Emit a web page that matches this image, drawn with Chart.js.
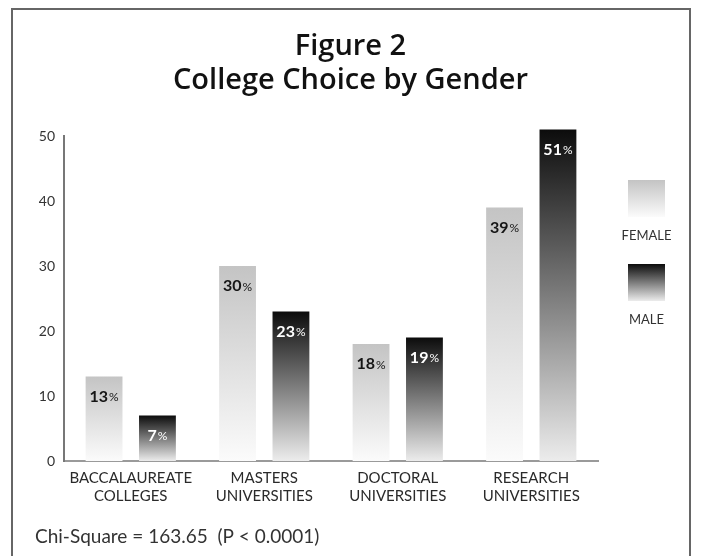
<!DOCTYPE html>
<html>
<head>
<meta charset="utf-8">
<script src="https://cdn.jsdelivr.net/npm/chart.js@4"></script>
<style>
  body { margin: 0; background: #fff; }
  #wrap { position: relative; width: 701px; height: 556px; }
  #frame {
    position: absolute; left: 11px; top: 8px; width: 676px; height: 560px;
    border: 2px solid #666; pointer-events: none;
  }
</style>
</head>
<body>
<div id="wrap">
  <canvas id="collegeChart" width="701" height="556"></canvas>
  <div id="frame"></div>
</div>
<script>
// data
const categories = [
  ['BACCALAUREATE', 'COLLEGES'],
  ['MASTERS', 'UNIVERSITIES'],
  ['DOCTORAL', 'UNIVERSITIES'],
  ['RESEARCH', 'UNIVERSITIES']
];
const femaleValues = [13, 30, 18, 39];
const maleValues = [7, 23, 19, 51];
const yTicks = [0, 10, 20, 30, 40, 50];
const seriesNames = ['FEMALE', 'MALE'];
const footnote = 'Chi-Square = 163.65  (P < 0.0001)';

const FONT = 'Lato, "Open Sans", sans-serif';
const femaleStops = ['#c4c4c4', '#fbfbfb'];
const maleStops = ['#0c0c0c', '#ececec'];

function makeGradient(ctx, top, bottom, stops) {
  const g = ctx.createLinearGradient(0, top, 0, bottom);
  g.addColorStop(0, stops[0]);
  g.addColorStop(1, stops[1]);
  return g;
}

function barFill(stops) {
  return function (c) {
    const chart = c.chart;
    if (!chart.chartArea || c.raw === undefined) return stops[0];
    const y = chart.scales.y;
    return makeGradient(chart.ctx, y.getPixelForValue(c.raw), y.getPixelForValue(0), stops);
  };
}

// value labels, legend and footnote
const extras = {
  id: 'extras',
  afterDatasetsDraw(chart) {
    const ctx = chart.ctx;
    ctx.save();
    ctx.textBaseline = 'middle';
    chart.data.datasets.forEach((ds, i) => {
      const meta = chart.getDatasetMeta(i);
      meta.data.forEach((bar, j) => {
        const num = String(ds.data[j]);
        ctx.font = 'bold 16px ' + FONT;
        const w1 = ctx.measureText(num).width;
        ctx.font = '12px ' + FONT;
        const w2 = ctx.measureText('%').width;
        const x0 = bar.x - (w1 + w2 + 1) / 2;
        const y0 = bar.y + 20;
        ctx.fillStyle = i === 0 ? '#151515' : '#ffffff';
        ctx.textAlign = 'left';
        ctx.font = 'bold 16px ' + FONT;
        ctx.fillText(num, x0, y0);
        ctx.font = '12px ' + FONT;
        ctx.fillText('%', x0 + w1 + 1, y0 + 1);
      });
    });
    ctx.restore();
  },
  afterDraw(chart) {
    const ctx = chart.ctx;
    ctx.save();
    // legend
    const lx = 628, size = 37;
    const boxes = [{ top: 180, stops: femaleStops }, { top: 264, stops: maleStops }];
    boxes.forEach((b, i) => {
      ctx.fillStyle = makeGradient(ctx, b.top, b.top + size, b.stops);
      ctx.fillRect(lx, b.top, size, size);
      ctx.fillStyle = '#333';
      ctx.font = '13px ' + FONT;
      ctx.textAlign = 'center';
      ctx.textBaseline = 'middle';
      ctx.fillText(seriesNames[i], lx + size / 2, b.top + size + 19);
    });
    // footnote
    ctx.font = '19px ' + FONT;
    ctx.textAlign = 'left';
    ctx.fillStyle = '#333';
    ctx.fillText(footnote, 35, 537);
    ctx.restore();
  }
};

new Chart(document.getElementById('collegeChart'), {
  type: 'bar',
  data: {
    labels: categories,
    datasets: [
      { label: seriesNames[0], data: femaleValues, backgroundColor: barFill(femaleStops), clip: false },
      { label: seriesNames[1], data: maleValues, backgroundColor: barFill(maleStops), clip: false }
    ]
  },
  options: {
    responsive: false,
    animation: false,
    categoryPercentage: 0.8,
    barPercentage: 0.69,
    layout: { padding: 0 },
    plugins: {
      legend: { display: false },
      tooltip: { enabled: false },
      title: {
        display: true,
        text: ['Figure 2', 'College Choice by Gender'],
        color: '#111',
        font: { family: '"Open Sans", Lato, sans-serif', size: 29, weight: '600', lineHeight: 1.2 },
        padding: { top: 29, bottom: 37.4 }
      }
    },
    scales: {
      x: {
        grid: { display: false, drawTicks: false },
        border: { display: true, color: '#9a9a9a', width: 2 },
        ticks: { color: '#2a2a2a', font: { family: FONT, size: 15, lineHeight: 1.2 }, padding: 8, maxRotation: 0 },
        afterFit(scale) { scale.height = 95; }
      },
      y: {
        min: 0,
        max: 50,
        afterBuildTicks(scale) { scale.ticks = yTicks.map(v => ({ value: v })); },
        grid: { display: false, drawTicks: false },
        border: { display: true, color: '#777', width: 2 },
        ticks: { color: '#333', font: { family: FONT, size: 14 }, padding: 9 },
        afterFit(scale) { scale.width = 64; }
      },
      // empty right axis keeps room for the legend
      side: {
        position: 'right',
        display: true,
        grid: { display: false, drawTicks: false },
        border: { display: false },
        ticks: { display: false },
        afterFit(scale) { scale.width = 103; }
      }
    }
  },
  plugins: [extras]
});
</script>
</body>
</html>
